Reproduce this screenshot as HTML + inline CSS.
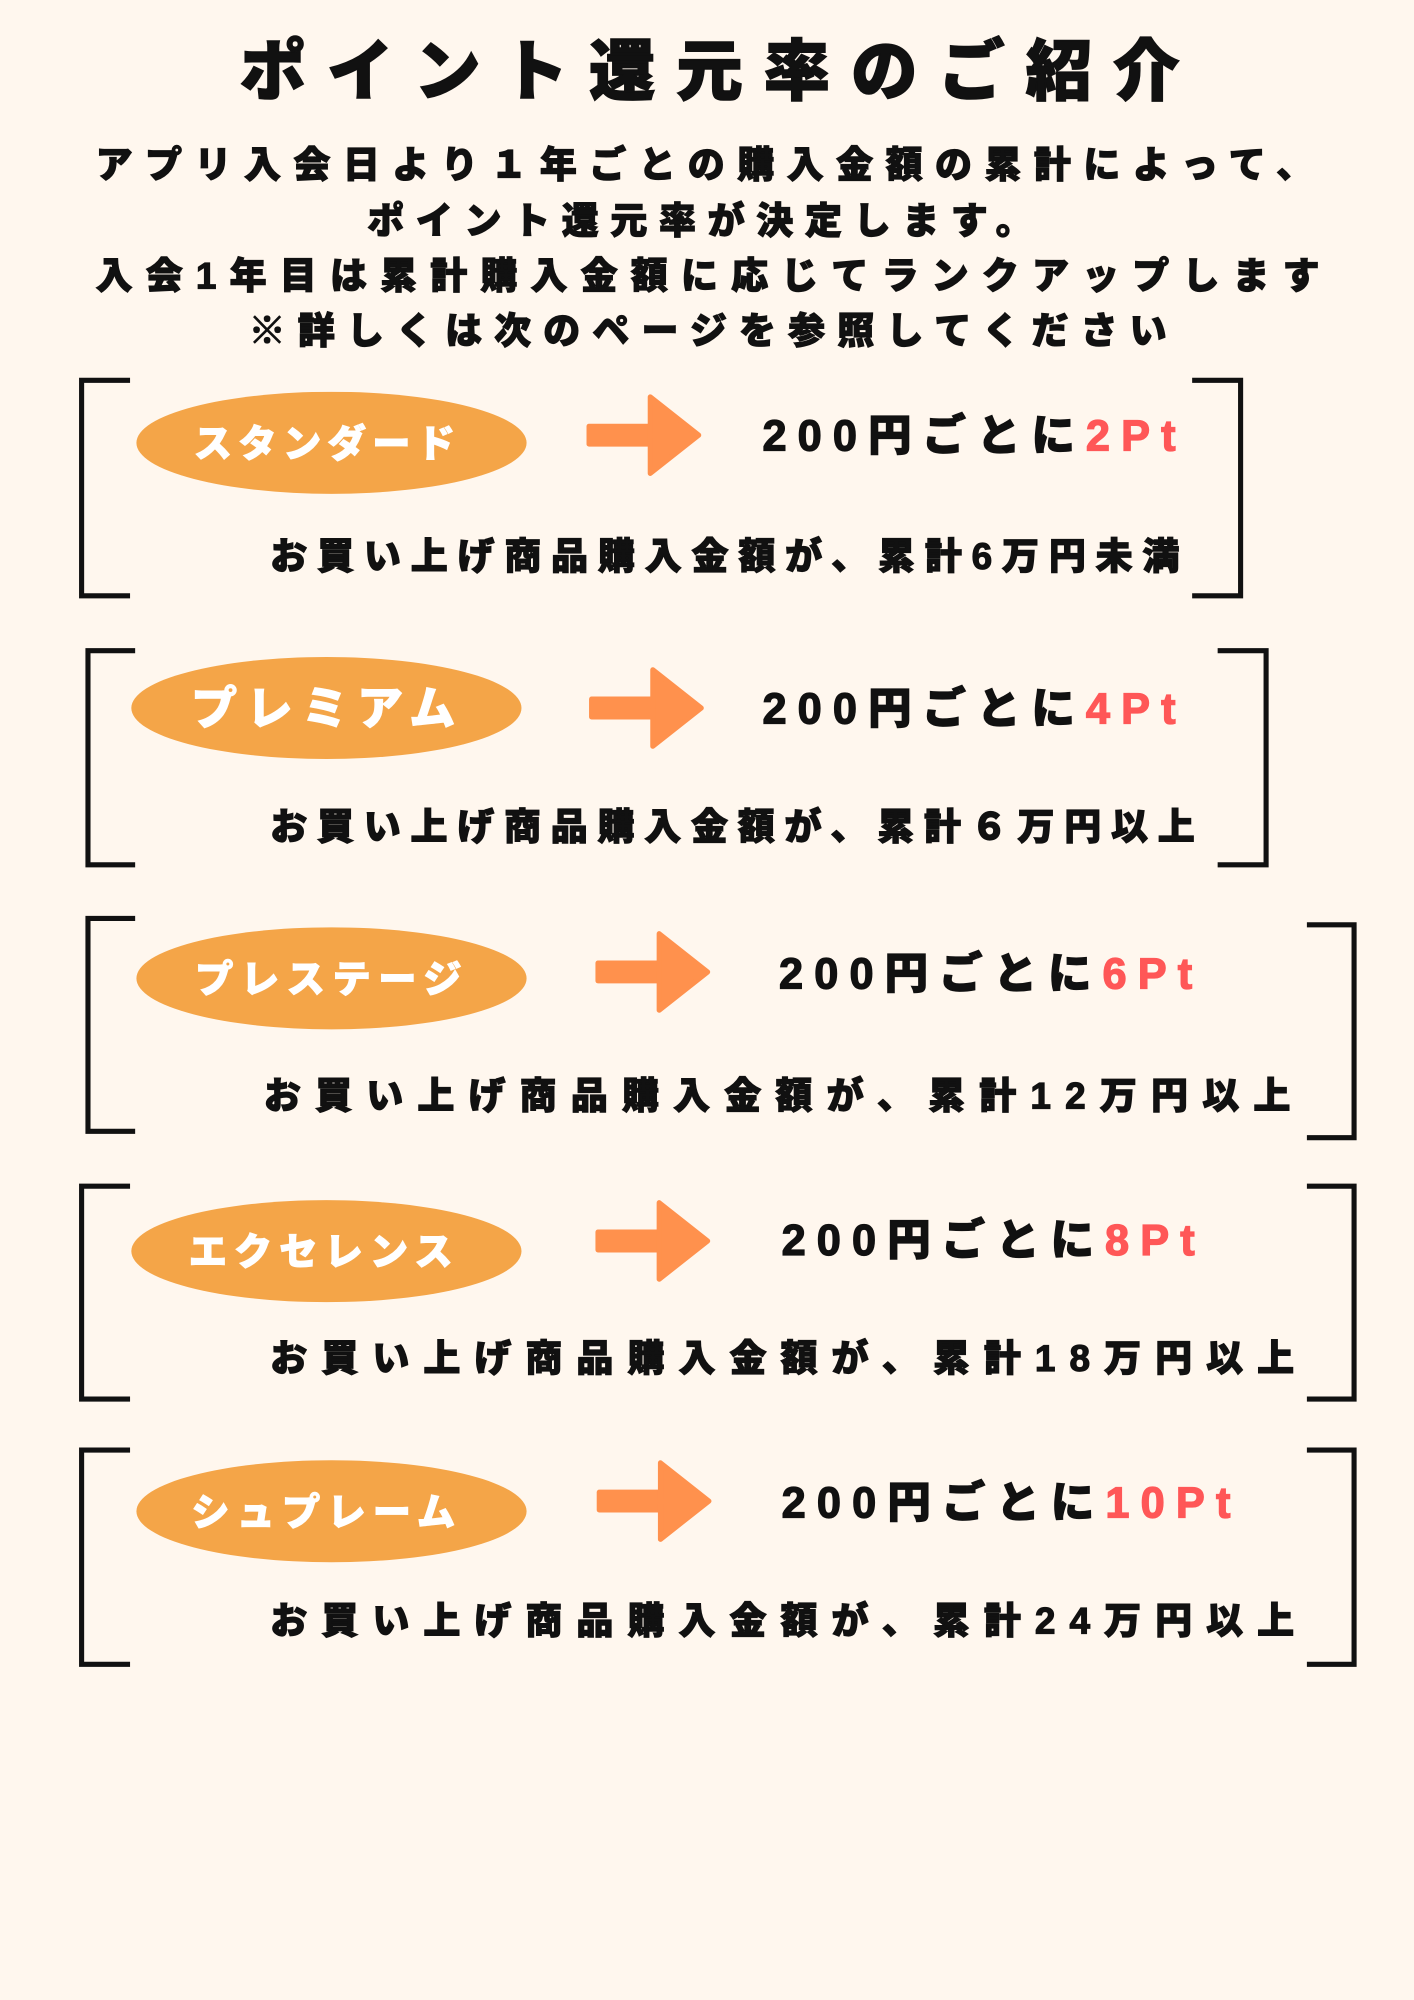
<!DOCTYPE html>
<html><head><meta charset="utf-8"><style>
html,body{margin:0;padding:0;background:#FFF7EE;}
svg{display:block}
text{font-family:"Liberation Sans","Noto Sans CJK JP",sans-serif;font-weight:900;}
</style></head><body>
<svg width="1414" height="2000" viewBox="0 0 1109 1568" xmlns="http://www.w3.org/2000/svg">
<rect width="1109" height="1568" fill="#FFF7EE"/>
<text x="188" y="74" font-size="52" textLength="737" lengthAdjust="spacing" fill="#111" stroke="#111" stroke-width="1.2">ポイント還元率のご紹介</text>
<g font-size="29" fill="#111" stroke="#111" stroke-width="0.9">
<text x="75" y="139" textLength="955" lengthAdjust="spacing">アプリ入会日より１年ごとの購入金額の累計によって、</text>
<text x="288" y="183" textLength="522" lengthAdjust="spacing">ポイント還元率が決定します。</text>
<text x="75" y="226" textLength="960" lengthAdjust="spacing">入会1年目は累計購入金額に応じてランクアップします</text>
<text x="195" y="269" textLength="720" lengthAdjust="spacing">※詳しくは次のページを参照してください</text>
</g>
<defs>
<g id="arrow"><rect x="0" y="-9" width="52" height="18" rx="2" fill="#FF914D"/><path d="M50,-30 L88,0 L50,30 Z" fill="#FF914D" stroke="#FF914D" stroke-width="4" stroke-linejoin="round"/></g>
</defs>
<g stroke="#111" stroke-width="4" fill="none">
<path d="M102,298 H64 V467 H102"/><path d="M935,298 H973 V467 H935"/>
<path d="M106,510 H69 V678 H106"/><path d="M955,510 H993 V678 H955"/>
<path d="M106,720 H69 V887 H106"/><path d="M1025,725 H1062 V892 H1025"/>
<path d="M102,930 H64 V1097 H102"/><path d="M1025,930 H1062 V1097 H1025"/>
<path d="M102,1137 H64 V1305 H102"/><path d="M1025,1137 H1062 V1305 H1025"/>
</g>
<g fill="#F4A548">
<ellipse cx="260" cy="347" rx="153" ry="40"/>
<ellipse cx="256" cy="555" rx="153" ry="40"/>
<ellipse cx="260" cy="767" rx="153" ry="40"/>
<ellipse cx="256" cy="981" rx="153" ry="40"/>
<ellipse cx="260" cy="1185" rx="153" ry="40"/>
</g>
<g fill="#fff" font-size="30" stroke="#fff" stroke-width="0.8">
<text x="152" y="358" textLength="205" lengthAdjust="spacing">スタンダード</text>
<text x="150" y="568" font-size="36" textLength="207" lengthAdjust="spacing">プレミアム</text>
<text x="153" y="778" textLength="209" lengthAdjust="spacing">プレステージ</text>
<text x="148" y="992" textLength="207" lengthAdjust="spacing">エクセレンス</text>
<text x="150" y="1196" textLength="207" lengthAdjust="spacing">シュプレーム</text>
</g>
<use href="#arrow" x="460" y="341"/>
<use href="#arrow" x="462" y="555"/>
<use href="#arrow" x="467" y="762"/>
<use href="#arrow" x="467" y="973"/>
<use href="#arrow" x="468" y="1177"/>
<g font-size="34" fill="#111" stroke="#111" stroke-width="1">
<text x="598" y="353" textLength="324" lengthAdjust="spacing">200円ごとに<tspan fill="#FF5757" stroke="#FF5757">2Pt</tspan></text>
<text x="598" y="567" textLength="324" lengthAdjust="spacing">200円ごとに<tspan fill="#FF5757" stroke="#FF5757">4Pt</tspan></text>
<text x="611" y="775" textLength="324" lengthAdjust="spacing">200円ごとに<tspan fill="#FF5757" stroke="#FF5757">6Pt</tspan></text>
<text x="613" y="984" textLength="324" lengthAdjust="spacing">200円ごとに<tspan fill="#FF5757" stroke="#FF5757">8Pt</tspan></text>
<text x="613" y="1190" textLength="352" lengthAdjust="spacing">200円ごとに<tspan fill="#FF5757" stroke="#FF5757">10Pt</tspan></text>
</g>
<g font-size="29" fill="#111" stroke="#111" stroke-width="0.9">
<text x="212" y="446" textLength="713" lengthAdjust="spacing">お買い上げ商品購入金額が、累計6万円未満</text>
<text x="212" y="658" textLength="725" lengthAdjust="spacing">お買い上げ商品購入金額が、累計６万円以上</text>
<text x="207" y="869" textLength="805" lengthAdjust="spacing">お買い上げ商品購入金額が、累計12万円以上</text>
<text x="212" y="1075" textLength="803" lengthAdjust="spacing">お買い上げ商品購入金額が、累計18万円以上</text>
<text x="212" y="1281" textLength="803" lengthAdjust="spacing">お買い上げ商品購入金額が、累計24万円以上</text>
</g>
</svg>
</body></html>
